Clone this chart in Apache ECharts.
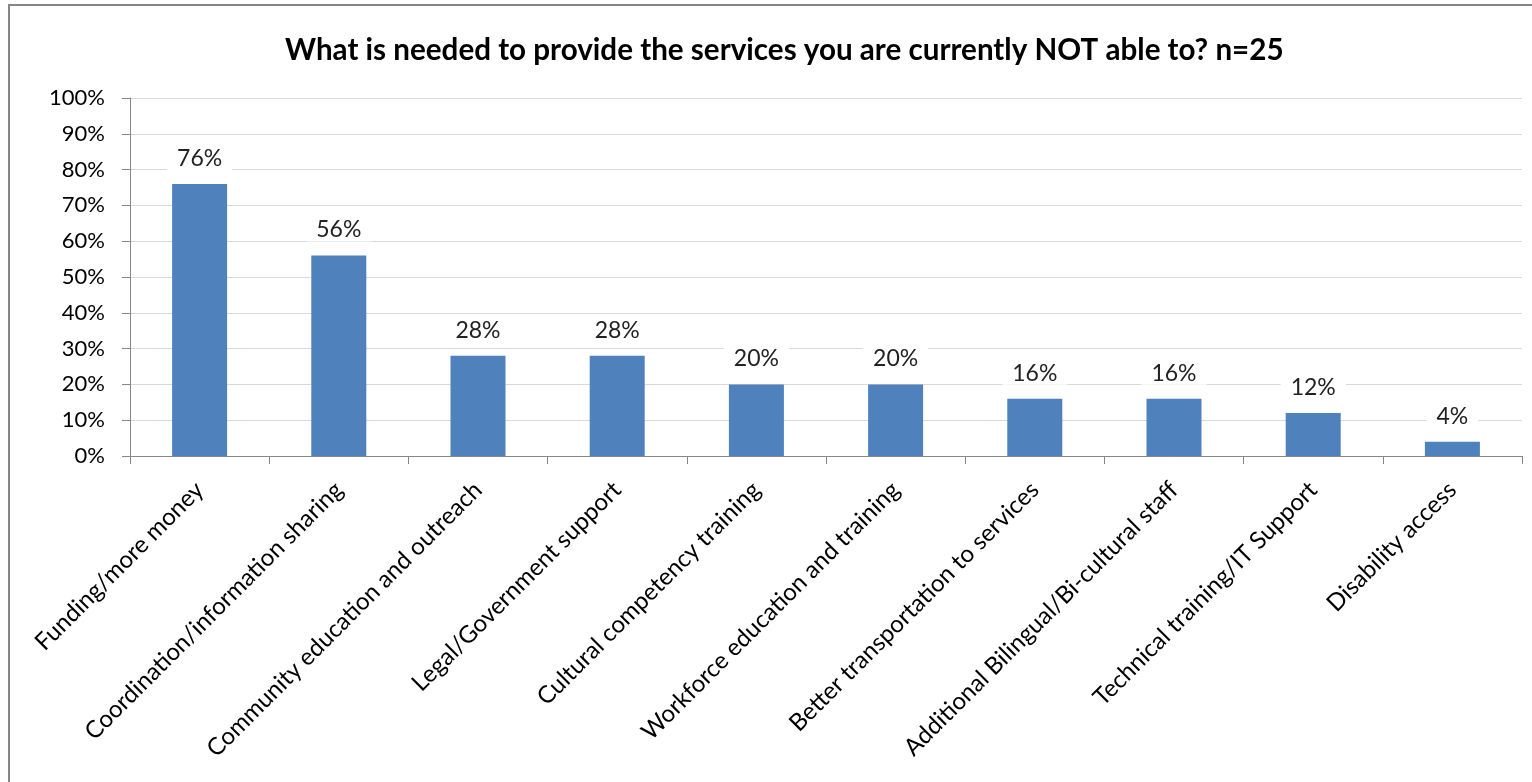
<!DOCTYPE html>
<html><head><meta charset="utf-8">
<script src="https://cdn.jsdelivr.net/npm/echarts@6/dist/echarts.min.js"></script>
<style>html,body{margin:0;padding:0;background:#fff}#c{width:1532px;height:782px}</style>
</head><body><div id="c"></div>
<script>
const titleText = 'What is needed to provide the services you are currently NOT able to? n=25';
const categories = ['Funding/more money','Coordination/information sharing','Community education and outreach','Legal/Government support','Cultural competency training','Workforce education and training','Better transportation to services','Additional Bilingual/Bi-cultural staff','Technical training/IT Support','Disability access'];
const values = [76,56,28,28,20,20,16,16,12,4];
const yTicks = [0,10,20,30,40,50,60,70,80,90,100];
const FONT = 'Lato';
const chart = echarts.init(document.getElementById('c'));
chart.setOption({
  animation:false,
  backgroundColor:'#fff',
  textStyle:{fontFamily:FONT},
  title:{text:titleText,left:280,top:30,textStyle:{fontFamily:FONT,fontSize:29.6,fontWeight:'bold',color:'#000'}},
  graphic:[{type:'rect',shape:{x:9,y:5,width:1600,height:900},style:{fill:'none',stroke:'#868686',lineWidth:2},silent:true}],
  grid:{left:130,right:10,top:98,bottom:326,containLabel:false},
  xAxis:{type:'category',data:categories,
    axisLine:{lineStyle:{color:'#868686',width:1}},
    axisTick:{show:true,length:8,lineStyle:{color:'#868686'}},
    axisLabel:{rotate:45,fontSize:24,color:'#000',margin:30,interval:0,fontFamily:FONT}},
  yAxis:{type:'value',min:0,max:100,interval:10,
    axisLine:{show:true,lineStyle:{color:'#868686'}},
    axisTick:{show:true,length:8,lineStyle:{color:'#868686'}},
    splitLine:{lineStyle:{color:'#D9D9D9'}},
    axisLabel:{fontSize:22,color:'#000',margin:25,fontFamily:FONT,formatter:v=>yTicks.includes(v)?v+'%':''}},
  series:[{type:'bar',data:values,barWidth:55,itemStyle:{color:'#4F81BD'},
    label:{show:true,position:'top',distance:14,formatter:p=>p.value+'%',fontSize:23,color:'#222',backgroundColor:'#fff',padding:[0,10],fontFamily:FONT}}]
});
</script></body></html>
